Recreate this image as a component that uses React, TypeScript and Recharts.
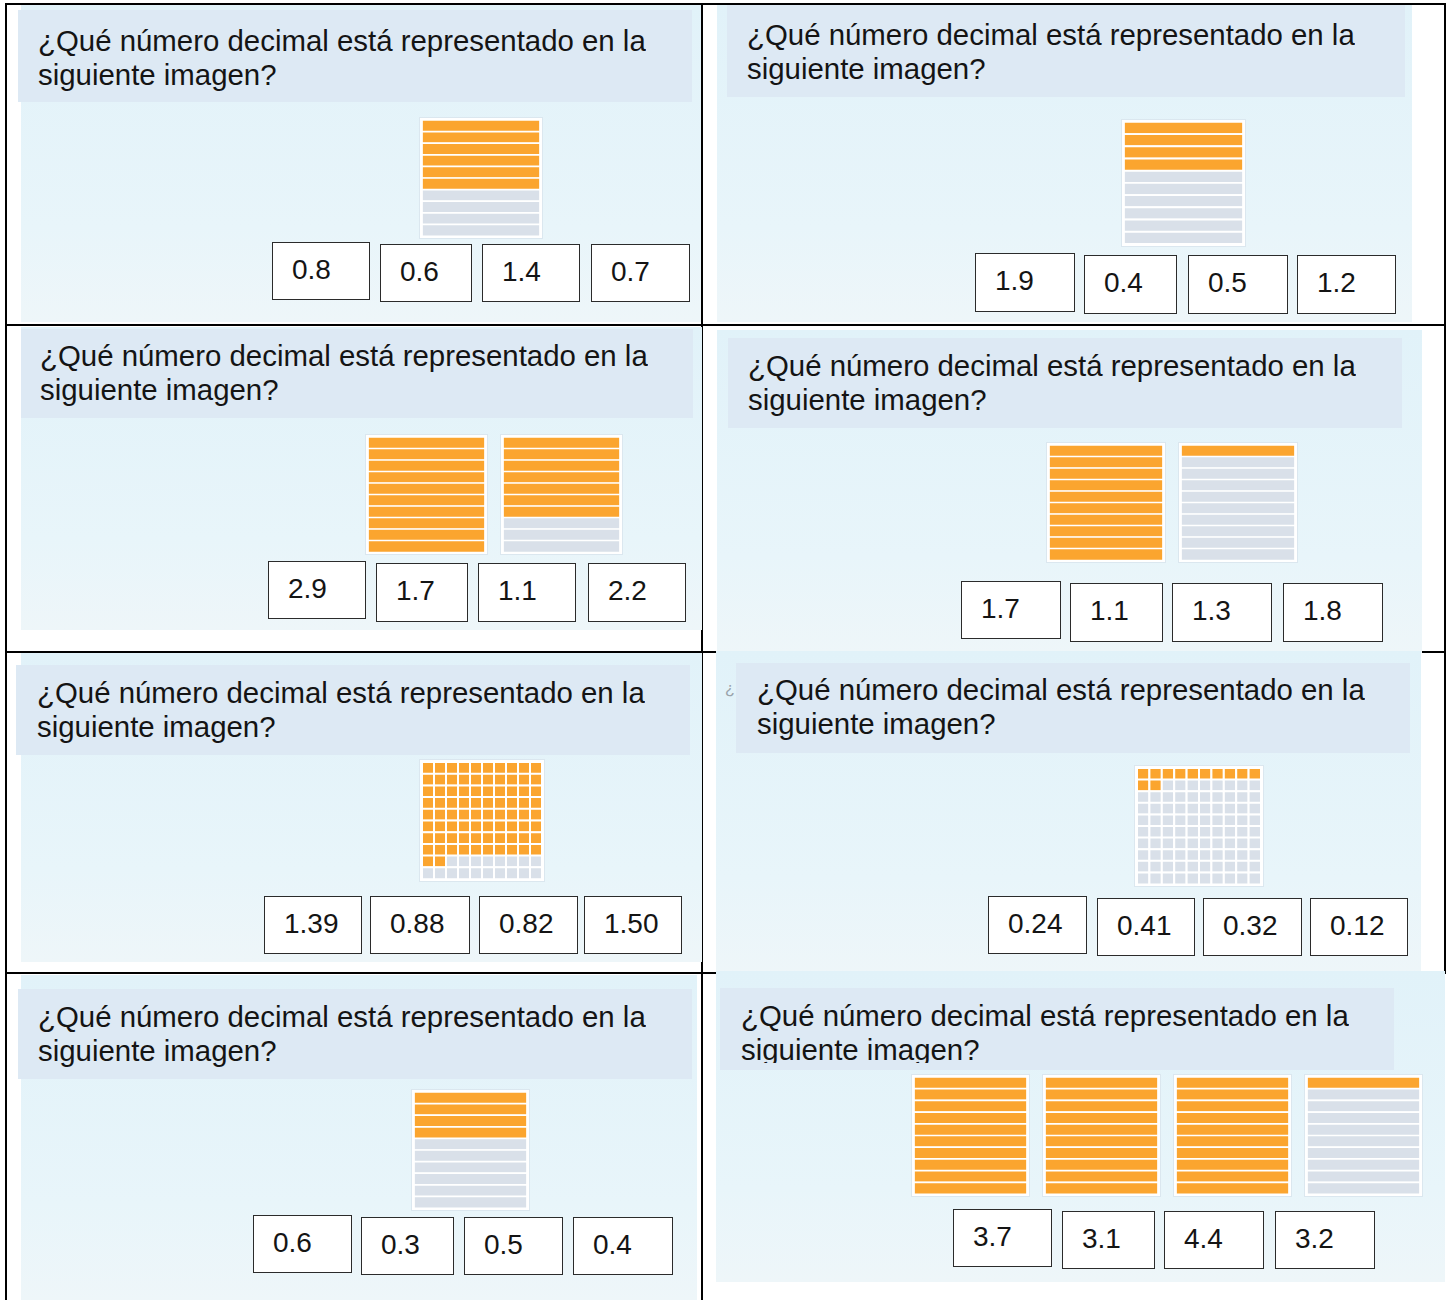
import { BarChart, Bar, XAxis, YAxis, Cell } from 'recharts';

const questionLines = ['¿Qué número decimal está representado en la', 'siguiente imagen?'];
const shadedValues = [0.6, 0.4, 1.7, 1.1, 0.82, 0.12, 0.4, 3.1];
const modelTypes = ['tenths', 'tenths', 'tenths', 'tenths', 'hundredths', 'hundredths', 'tenths', 'tenths'];
const squareCounts = [1, 1, 2, 2, 1, 1, 1, 4];
const answerOptions = [
  ['0.8', '0.6', '1.4', '0.7'],
  ['1.9', '0.4', '0.5', '1.2'],
  ['2.9', '1.7', '1.1', '2.2'],
  ['1.7', '1.1', '1.3', '1.8'],
  ['1.39', '0.88', '0.82', '1.50'],
  ['0.24', '0.41', '0.32', '0.12'],
  ['0.6', '0.3', '0.5', '0.4'],
  ['3.7', '3.1', '4.4', '3.2'],
];
const rowLabels = ['r1', 'r2', 'r3', 'r4', 'r5', 'r6', 'r7', 'r8', 'r9', 'r10'];
const colKeys = ['c0', 'c1', 'c2', 'c3', 'c4', 'c5', 'c6', 'c7', 'c8', 'c9'];

const ORANGE = '#fba52f';
const GRAY = '#d9e0e9';
const FONT = '"Liberation Sans", Arial, sans-serif';

// layout of each panel on the page: [x1, y1, x2, y2]
const panelRects = [
  [21, 5, 701, 322], [717, 5, 1412, 322],
  [21, 327, 702, 630], [717, 330, 1422, 653],
  [21, 653, 702, 962], [716, 651, 1421, 973],
  [21, 975, 697, 1300], [716, 971, 1445, 1282],
];
const headerRects = [
  [18, 10, 692, 102], [727, 5, 1405, 97],
  [21, 329, 693, 418], [728, 338, 1402, 428],
  [16, 665, 690, 755], [736, 663, 1410, 753],
  [18, 989, 692, 1079], [720, 988, 1394, 1070],
];
// [x, first baseline, clip bottom]
const textPos = [
  [38, 51, 0], [747, 45, 0], [40, 366, 0], [748, 376, 0],
  [37, 703, 0], [757, 700, 0], [38, 1027, 0], [741, 1026, 1063],
];
// [x, y, w, h, step]
const figureBoxes = [
  [419, 117, 124, 122, 0], [1121, 119, 125, 128, 0],
  [365, 434, 123, 121, 135], [1046, 442, 120, 121, 132],
  [419, 759, 126, 123, 0], [1134, 765, 130, 122, 0],
  [411, 1089, 119, 122, 0], [911, 1074, 119, 123, 131],
];
const answerBoxes = [
  [[272, 242, 98, 58], [380, 244, 92, 58], [482, 244, 98, 58], [591, 244, 99, 58]],
  [[975, 253, 100, 59], [1084, 255, 93, 59], [1188, 255, 100, 59], [1297, 255, 99, 59]],
  [[268, 561, 98, 58], [376, 563, 92, 59], [478, 563, 98, 59], [588, 563, 98, 59]],
  [[961, 581, 100, 58], [1070, 583, 93, 59], [1172, 583, 100, 59], [1283, 583, 100, 59]],
  [[264, 896, 98, 58], [370, 896, 100, 58], [479, 896, 99, 58], [584, 896, 98, 58]],
  [[988, 896, 99, 58], [1097, 898, 98, 58], [1203, 898, 99, 58], [1310, 898, 98, 58]],
  [[253, 1215, 99, 58], [361, 1217, 93, 58], [464, 1217, 99, 58], [573, 1217, 100, 58]],
  [[953, 1209, 99, 58], [1062, 1211, 93, 58], [1164, 1211, 100, 58], [1275, 1211, 100, 58]],
];

const TenthsSquare = ({ filled, w, h }: { filled: number; w: number; h: number }) => {
  const rows = rowLabels.map((r, i) => ({ row: r, v: 1, on: i < filled }));
  return (
    <BarChart width={w} height={h} data={rows} layout="vertical" barCategoryGap={0}
      margin={{ top: 0, right: 0, bottom: 0, left: 0 }}>
      <XAxis type="number" domain={[0, 1]} hide />
      <YAxis type="category" dataKey="row" hide width={0} />
      <Bar dataKey="v" isAnimationActive={false} stroke="#fff" strokeWidth={1.7}>
        {rows.map((r, i) => <Cell key={i} fill={r.on ? ORANGE : GRAY} />)}
      </Bar>
    </BarChart>
  );
};

const HundredthsSquare = ({ filled, w, h }: { filled: number; w: number; h: number }) => {
  const rows = rowLabels.map((r) => {
    const o: any = { row: r };
    colKeys.forEach((k) => (o[k] = 1));
    return o;
  });
  return (
    <BarChart width={w} height={h} data={rows} layout="vertical" barCategoryGap={0}
      margin={{ top: 0, right: 0, bottom: 0, left: 0 }}>
      <XAxis type="number" domain={[0, 10]} hide />
      <YAxis type="category" dataKey="row" hide width={0} />
      {colKeys.map((k, c) => (
        <Bar key={k} dataKey={k} stackId="g" isAnimationActive={false} stroke="#fff" strokeWidth={2}>
          {rows.map((_, r) => <Cell key={r} fill={r * 10 + c < filled ? ORANGE : GRAY} />)}
        </Bar>
      ))}
    </BarChart>
  );
};

const Panel = ({ idx }: { idx: number }) => {
  const [px1, py1, px2, py2] = panelRects[idx];
  const [hx1, hy1, hx2, hy2] = headerRects[idx];
  const [tx, tb, clip] = textPos[idx];
  const [fx, fy, fw, fh, step] = figureBoxes[idx];
  const unit = modelTypes[idx] === 'hundredths' ? 100 : 10;
  const total = Math.round(shadedValues[idx] * unit);
  const textTop = tb - 27;
  return (
    <>
      <div style={{ position: 'absolute', left: px1, top: py1, width: px2 - px1, height: py2 - py1,
        background: 'linear-gradient(#e1f2f9, #e8f5fa 70%, #eef6f9)' }} />
      <div style={{ position: 'absolute', left: hx1, top: hy1, width: hx2 - hx1, height: hy2 - hy1, background: '#dde9f4' }} />
      <div style={{ position: 'absolute', left: tx, top: textTop, fontFamily: FONT, fontSize: 29.4, lineHeight: '34px',
        color: '#141414', whiteSpace: 'nowrap', overflow: 'hidden', height: clip ? clip - textTop : undefined }}>
        {questionLines.map((l) => <div key={l}>{l}</div>)}
      </div>
      {Array.from({ length: squareCounts[idx] }).map((_, k) => {
        const filled = Math.max(0, Math.min(unit, total - k * unit));
        return (
          <div key={k} style={{ position: 'absolute', left: fx + k * step, top: fy, width: fw, height: fh,
            background: '#fff', border: '1px solid #dbe7ef', boxSizing: 'border-box', padding: 2 }}>
            {unit === 10
              ? <TenthsSquare filled={filled} w={fw - 6} h={fh - 6} />
              : <HundredthsSquare filled={filled} w={fw - 6} h={fh - 6} />}
          </div>
        );
      })}
      {answerBoxes[idx].map(([bx, by, bw, bh], j) => (
        <div key={j} style={{ position: 'absolute', left: bx, top: by, width: bw, height: bh, background: '#fff',
          border: '1.5px solid #2b2b2b', boxSizing: 'border-box' }}>
          <span style={{ position: 'absolute', left: 19, top: 11, fontFamily: FONT, fontSize: 28, color: '#141414' }}>
            {answerOptions[idx][j]}
          </span>
        </div>
      ))}
    </>
  );
};

const line = (x: number, y: number, w: number, h: number) => (
  <div key={`${x}-${y}-${w}-${h}`} style={{ position: 'absolute', left: x, top: y, width: w, height: h, background: '#000' }} />
);

export default function App() {
  return (
    <div style={{ position: 'absolute', left: 0, top: 0, width: 1452, height: 1300, background: '#fff', overflow: 'hidden' }}>
      {line(5, 3, 1441, 2)}
      {line(5, 324, 1441, 2)}
      {line(5, 651, 1441, 2)}
      {line(5, 972, 1441, 2)}
      {line(5, 3, 2, 1297)}
      {line(701, 3, 2, 1297)}
      {line(1444, 3, 2, 971)}
      {panelRects.map((_, i) => <Panel key={i} idx={i} />)}
      <span style={{ position: 'absolute', left: 725, top: 680, fontFamily: FONT, fontSize: 16, color: '#9aa3ab' }}>¿</span>
    </div>
  );
}
